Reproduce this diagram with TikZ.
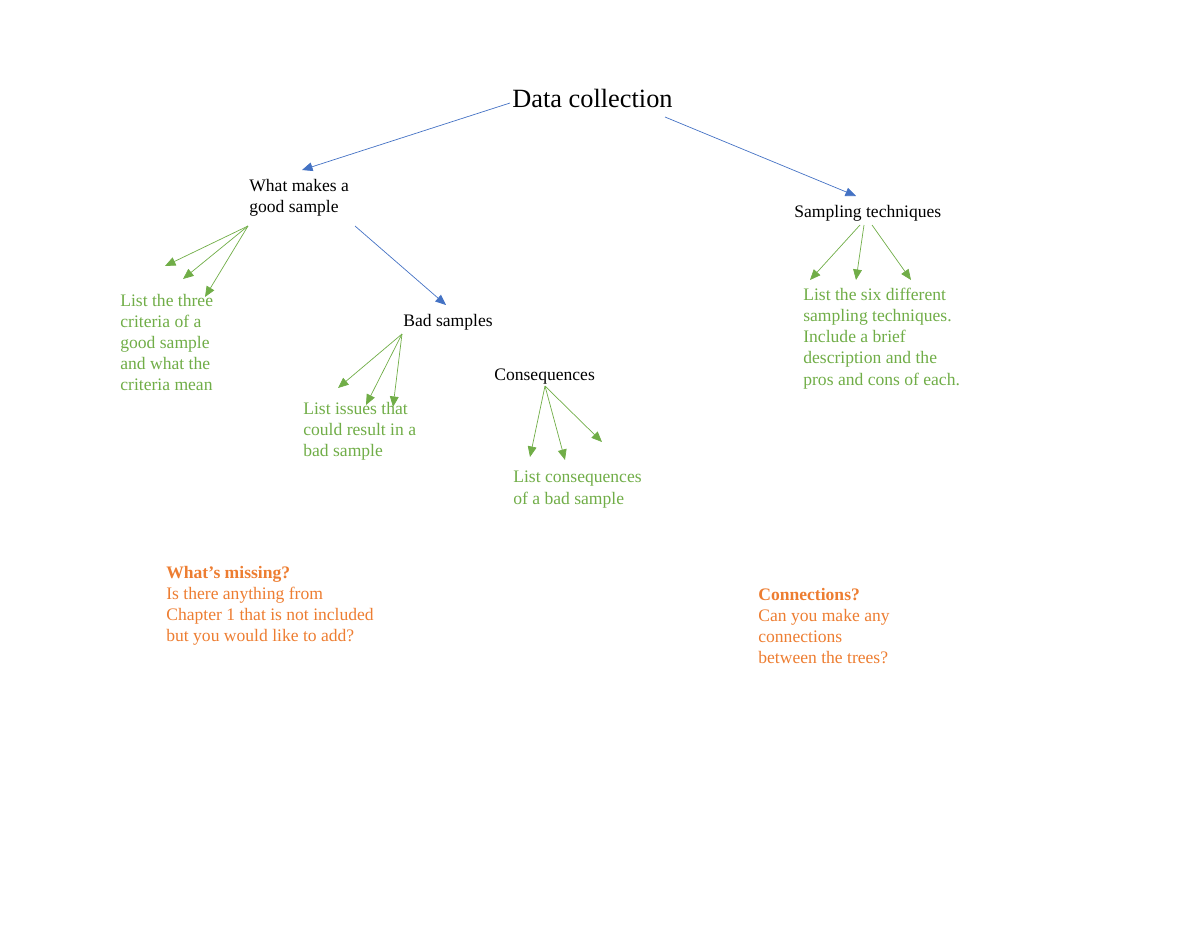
\documentclass[tikz,border=0pt]{standalone}
\usepackage{fontspec}
\setmainfont{Liberation Serif}
\usetikzlibrary{arrows.meta}
\definecolor{blueArrow}{HTML}{4472C4}
\definecolor{greenNote}{HTML}{70AD47}
\definecolor{orangeNote}{HTML}{ED7D31}
\begin{document}
\begin{tikzpicture}[x=0.02cm, y=-0.02cm,
  topicStyle/.style={anchor=north west, inner sep=0pt, align=left, font=\fontsize{10}{12}\selectfont},
  noteStyle/.style={topicStyle, text=greenNote},
  askStyle/.style={topicStyle, text=orangeNote},
  blueLink/.style={draw=blueArrow, -{Triangle[length=6pt, width=5pt]}},
  greenLink/.style={draw=greenNote, -{Triangle[length=6pt, width=5pt]}}]
  \useasboundingbox (0,0) rectangle (1200,927);

  \node[anchor=west, inner sep=0pt, font=\fontsize{15}{18}\selectfont](root) at (512, 98) {Data collection};
  \node[topicStyle](good) at (249, 179) {What makes a\\good sample};
  \node[topicStyle](tech) at (794, 205) {Sampling techniques};
  \node[topicStyle](bad) at (403, 314) {Bad samples};
  \node[topicStyle](cons) at (494, 369) {Consequences};

  \node[noteStyle](goodNote) at (120, 294) {List the three\\criteria of a\\good sample\\and what the\\criteria mean};
  \node[noteStyle](techNote) at (803, 288) {List the six different\\sampling techniques.\\Include a brief\\description and the\\pros and cons of each.};
  \node[noteStyle](badNote) at (303, 402) {List issues that\\could result in a\\bad sample};
  \node[noteStyle](consNote) at (513, 471) {List consequences\\of a bad sample};

  \node[askStyle](missing) at (166, 566) {\textbf{What’s missing?}\\Is there anything from\\Chapter 1 that is not included\\but you would like to add?};
  \node[askStyle](links) at (758, 588) {\textbf{Connections?}\\Can you make any\\connections\\between the trees?};

  \coordinate (r1) at (510, 103);
  \coordinate (r2) at (665, 117);
  \coordinate (g0) at (248, 226);
  \coordinate (g1) at (355, 226);
  \coordinate (t0) at (860, 225);
  \coordinate (t1) at (864, 225);
  \coordinate (t2) at (872, 225);
  \coordinate (b0) at (402, 334);
  \coordinate (c0) at (545, 386);

  \coordinate (goodIn) at (302, 170);
  \coordinate (techIn) at (856, 196);
  \coordinate (badIn) at (446, 305);
  \coordinate (ga) at (165, 266);
  \coordinate (gb) at (183, 279);
  \coordinate (gc) at (205, 297);
  \coordinate (ta) at (810, 280);
  \coordinate (tb) at (856, 280);
  \coordinate (tc) at (911, 280);
  \coordinate (ba) at (338, 388);
  \coordinate (bb) at (366, 405);
  \coordinate (bc) at (393, 407);
  \coordinate (ca) at (530, 457);
  \coordinate (cb) at (565, 460);
  \coordinate (cc) at (602, 442);

  \draw[blueLink] (r1) -- (goodIn);
  \draw[blueLink] (r2) -- (techIn);
  \draw[blueLink] (g1) -- (badIn);

  \draw[greenLink] (g0) -- (ga);
  \draw[greenLink] (g0) -- (gb);
  \draw[greenLink] (g0) -- (gc);
  \draw[greenLink] (t0) -- (ta);
  \draw[greenLink] (t1) -- (tb);
  \draw[greenLink] (t2) -- (tc);
  \draw[greenLink] (b0) -- (ba);
  \draw[greenLink] (b0) -- (bb);
  \draw[greenLink] (b0) -- (bc);
  \draw[greenLink] (c0) -- (ca);
  \draw[greenLink] (c0) -- (cb);
  \draw[greenLink] (c0) -- (cc);
\end{tikzpicture}
\end{document}
